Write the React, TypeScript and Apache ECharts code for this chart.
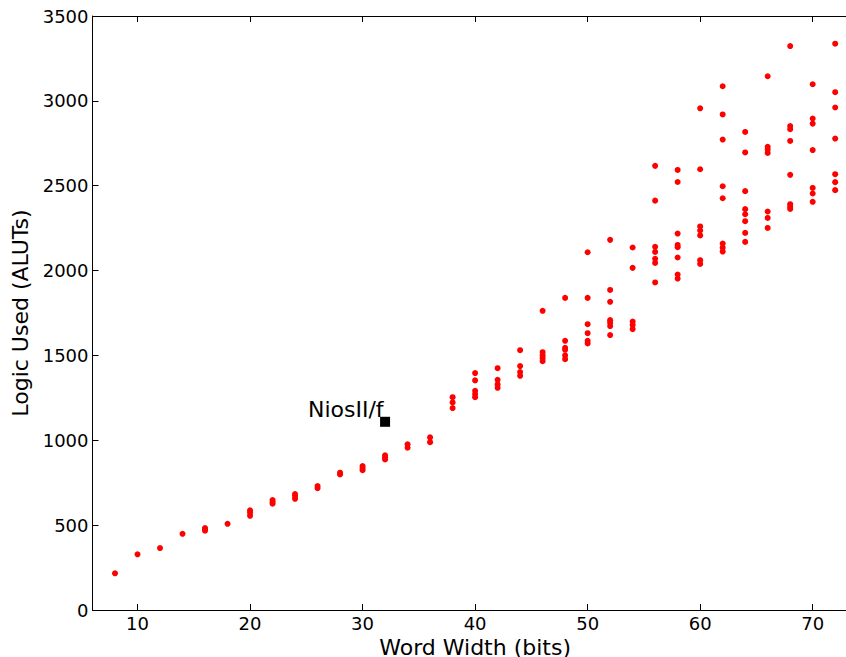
import React, { useEffect, useRef } from "react";
import * as echarts from "echarts";

const widths = [8, 10, 12, 14, 16, 18, 20, 22, 24, 26, 28, 30, 32, 34, 36, 38, 40, 42, 44, 46, 48, 50, 52, 54, 56, 58, 60, 62, 64, 66, 68, 70, 72];
const alutsByWidth = [
  [216],
  [328],
  [365],
  [449],
  [467, 475, 483],
  [508],
  [555, 573, 587],
  [626, 636, 648],
  [655, 671, 683],
  [718, 730],
  [799, 809],
  [824, 836, 848],
  [887, 899, 911],
  [956, 976],
  [989, 1017],
  [1190, 1223, 1254],
  [1254, 1272, 1292, 1353, 1396],
  [1309, 1329, 1356, 1425],
  [1380, 1402, 1437, 1531],
  [1466, 1484, 1500, 1519, 1763],
  [1478, 1500, 1533, 1545, 1586, 1839],
  [1571, 1586, 1631, 1684, 1839, 2108],
  [1620, 1673, 1692, 1708, 1816, 1886, 2181],
  [1655, 1680, 1700, 2016, 2136],
  [1930, 2045, 2069, 2110, 2140, 2412, 2617],
  [1953, 1977, 2077, 2138, 2151, 2218, 2522, 2593],
  [2039, 2061, 2207, 2236, 2260, 2597, 2956],
  [2112, 2135, 2159, 2426, 2497, 2772, 2920, 3086],
  [2169, 2222, 2291, 2332, 2362, 2468, 2696, 2817],
  [2251, 2310, 2348, 2693, 2713, 2729, 3145],
  [2363, 2375, 2391, 2564, 2764, 2833, 2852, 3323],
  [2405, 2454, 2487, 2710, 2866, 2896, 3098],
  [2474, 2521, 2568, 2778, 2961, 3051, 3337],
];
const niosName = "NiosII/f";
const niosPoint = [32, 1109];
const xTicks = [10, 20, 30, 40, 50, 60, 70];

const FONT = "DejaVu Sans";

export default function App() {
  const ref = useRef<HTMLDivElement>(null);
  useEffect(() => {
    if (!ref.current) return;
    const chart = echarts.init(ref.current, null, { renderer: "svg" });
    const points: number[][] = [];
    widths.forEach((w, i) => alutsByWidth[i].forEach((v) => points.push([w, v])));
    const axisLine = { show: true, lineStyle: { color: "#000", width: 1 } };
    const tick = { show: true, inside: true, length: 6, lineStyle: { color: "#000", width: 1 } };
    chart.setOption({
      animation: false,
      backgroundColor: "#fff",
      textStyle: { fontFamily: FONT },
      grid: {
        left: 92.5,
        top: 16,
        right: -11.7,
        bottom: 47,
        containLabel: false,
        outerBoundsMode: "none",
      },
      xAxis: [
        {
          type: "value",
          min: 6,
          max: 74,
          position: "bottom",
          name: "Word Width (bits)",
          nameLocation: "middle",
          nameGap: 19,
          nameTextStyle: { fontSize: 22, lineHeight: 22, color: "#000", fontFamily: FONT },
          axisLine,
          axisTick: { ...tick, customValues: xTicks },
          axisLabel: { customValues: xTicks, fontSize: 18, color: "#000", margin: 4, fontFamily: FONT },
          splitLine: { show: false },
        },
        {
          type: "value",
          min: 6,
          max: 74,
          position: "top",
          axisLine,
          axisTick: { ...tick, customValues: xTicks },
          axisLabel: { show: false },
          splitLine: { show: false },
        },
      ],
      yAxis: {
        type: "value",
        min: 0,
        max: 3500,
        interval: 500,
        name: "Logic Used (ALUTs)",
        nameLocation: "middle",
        nameGap: 60,
        nameTextStyle: { fontSize: 22, color: "#000", fontFamily: FONT },
        axisLine,
        axisTick: tick,
        axisLabel: {
          fontSize: 18,
          color: "#000",
          margin: 4,
          fontFamily: FONT,
          formatter: (v: number) => String(v),
        },
        splitLine: { show: false },
      },
      series: [
        {
          type: "scatter",
          data: points,
          symbol: "circle",
          symbolSize: 6,
          itemStyle: { color: "#ff0000", opacity: 1 },
        },
        {
          type: "scatter",
          data: [niosPoint],
          symbol: "rect",
          symbolSize: 10,
          itemStyle: { color: "#000", opacity: 1 },
          label: {
            show: true,
            formatter: niosName,
            position: "left",
            distance: -3.5,
            offset: [0, -12],
            fontSize: 22,
            color: "#000",
            fontFamily: FONT,
          },
        },
      ],
    });
    return () => chart.dispose();
  }, []);
  return (
    <div
      ref={ref}
      style={{ position: "fixed", left: 0, top: 0, width: 846, height: 657 }}
    />
  );
}
